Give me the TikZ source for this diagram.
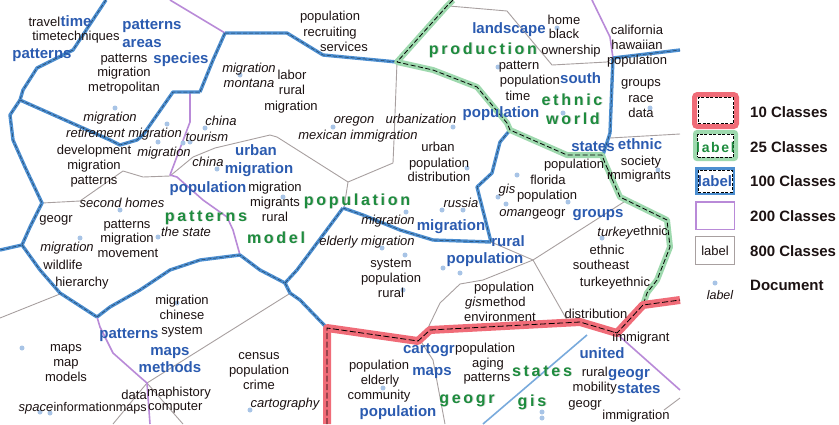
\documentclass[tikz,border=0pt]{standalone}
\usepackage{fontspec}
\setmainfont{Liberation Sans}
\newfontfamily\gfont[LetterSpace=17]{Liberation Sans}
\newfontfamily\gfontb[LetterSpace=12]{Liberation Sans}
\definecolor{txt}{HTML}{1C1212}
\definecolor{bl}{HTML}{2B5BB0}
\definecolor{gr}{HTML}{1E8C3E}
\definecolor{redl}{HTML}{F06C78}
\definecolor{grl}{HTML}{9ED9AE}
\definecolor{bll}{HTML}{4C8ED0}
\definecolor{pul}{HTML}{B98AD8}
\definecolor{gyl}{HTML}{A8A0A0}
\definecolor{dotc}{HTML}{A8C4E6}
\newcounter{tx}
\newcounter{dp}
\newcommand\tx[4]{\stepcounter{tx}\node[#1] (t\arabic{tx}) at (#2,#3) {#4};}
\newcommand\gtx[3]{\stepcounter{tx}\node[ggsh] (s\arabic{tx}) at (#1,#2) {#3};\node[gg] (t\arabic{tx}) at (#1,#2) {#3};}
\newcommand\dpt[2]{\stepcounter{dp}\node[docdot] (d\arabic{dp}) at (#1,#2) {};}
\tikzset{
 w/.style={font=\fontsize{13}{15}\selectfont, text=txt, inner sep=0pt, anchor=base, yshift=-4.5pt},
 wi/.style={w, font=\fontsize{13}{15}\selectfont\itshape},
 bb/.style={font=\fontsize{15}{17}\selectfont\bfseries, text=bl, inner sep=0pt, anchor=base, yshift=-5.5pt},
 gg/.style={font=\fontsize{16}{18}\selectfont\gfont\bfseries, text=gr, inner sep=0pt, anchor=base, yshift=-6pt},
 ggsh/.style={gg, text=black!30, xshift=0.9pt, yshift=-0.9pt, opacity=0.55},
 lgt/.style={font=\fontsize{15}{17}\selectfont\bfseries, text=txt, inner sep=0pt, anchor=west},
 docdot/.style={circle, fill=dotc, inner sep=0pt, minimum size=5pt},
 c800/.style={draw=gyl, line width=0.9pt, line join=round},
 c200/.style={draw=pul, line width=1.6pt, line join=round},
 c100/.style={draw=black!55!bll, line width=0.5pt, dash pattern=on 4pt off 2pt, line join=round,
   preaction={draw=bll, line width=3.4pt, solid, line join=round}},
 c25/.style={draw=black, line width=0.8pt, dash pattern=on 5pt off 2.5pt, line join=round,
   preaction={draw=grl, line width=6pt, solid, line join=round}},
 c10/.style={draw=black, line width=0.8pt, dash pattern=on 6pt off 2.5pt, line join=round,
   preaction={draw=redl, line width=8pt, solid, line join=round}},
}
\begin{document}
\begin{tikzpicture}[x=1pt,y=-1pt]
\useasboundingbox (0,0) rectangle (839,424);
\fill[white] (0,0) rectangle (839,424);
% 800 classes
\draw[c800] (0,318)--(60,294);
\draw[c800] (42,203)--(80,201)--(123,171)--(143,177)--(170,176);
\draw[c800] (170,176)--(193,157)--(215,148)--(270,135)--(277,137)--(348,182);
\draw[c800] (348,182)--(393,163)--(394,140)--(397,62);
\draw[c800] (348,182)--(344,208);
\draw[c800] (449,6)--(507,11)--(552,65)--(607,62)--(613,58);
\draw[c800] (610,138)--(680,134);
\draw[c800] (491,242)--(533,260)--(627,200);
\draw[c800] (533,260)--(483,280)--(460,284)--(440,303)--(426,332);
\draw[c800] (533,260)--(567,320);
\draw[c800] (289,294)--(147,383);
\draw[c800] (147,383)--(113,424);
\draw[c800] (147,383)--(183,424);
\draw[c800] (420,340)--(433,360)--(445,424);
\draw[c800] (664,410)--(680,398);
% 200 classes
\draw[c200] (170,0)--(225,33);
\draw[c200] (592,0)--(610,37)--(613,58);
\draw[c200] (190,92)--(190,122)--(170,175)--(177,177)--(203,200)--(227,217)--(233,230)--(240,255);
\draw[c200] (97,317)--(100,327)--(113,353)--(140,377)--(147,383)--(150,424);
\draw[c200] (617,334)--(680,390);
% 100 classes
\draw[c100] (106,0)--(73,50)--(37,68)--(23,90)--(20,100);
\draw[c100] (20,100)--(10,115)--(13,140)--(25,167)--(42,203)--(30,227)--(22,245);
\draw[c100] (22,245)--(0,250);
\draw[c100] (22,245)--(40,270)--(60,293)--(97,317);
\draw[c100] (97,317)--(110,307)--(140,290)--(170,270)--(200,260)--(240,255)--(260,270)--(285,283);
\draw[c100] (285,283)--(290,293)--(300,300)--(327,328);
\draw[c100] (285,283)--(297,270)--(343,208);
\draw[c100] (343,208)--(363,215)--(400,230)--(433,240)--(491,242);
\draw[c100] (491,242)--(477,187)--(492,173)--(500,142)--(510,130);
\draw[c100] (20,100)--(110,140)--(120,145)--(137,140)--(143,135)--(173,92)--(200,92);
\draw[c100] (200,92)--(213,60)--(225,33);
\draw[c100] (225,33)--(287,33)--(323,55)--(397,62);
\draw[c100] (613,58)--(680,50);
\draw[c100] (613,58)--(610,133)--(603,155);
\draw[draw=bll!75, line width=1.6pt] (587,335)--(483,424);
% 25 classes
\draw[c25] (453,0)--(447,6)--(397,62)--(433,70)--(477,87)--(507,123)--(510,130)--(567,155)--(602,155)--(605,163)--(620,197)--(667,220)--(670,247)--(657,280)--(647,293)--(643,305);
% 10 classes
\draw[c10] (327,424)--(327,328)--(418,341)--(430,330)--(580,322)--(617,333)--(643,305)--(680,300);
% documents
\dpt{115}{108}\dpt{167}{124}\dpt{205}{128}\dpt{158}{142}\dpt{183}{143}\dpt{190}{142}
\dpt{217}{169}\dpt{120}{210}\dpt{80}{238}\dpt{158}{237}\dpt{283}{197}\dpt{406}{212}
\dpt{382}{248}\dpt{405}{255}\dpt{240}{75}\dpt{333}{127}\dpt{557}{28}\dpt{498}{67}
\dpt{563}{113}\dpt{650}{108}\dpt{453}{127}\dpt{467}{168}\dpt{517}{175}\dpt{498}{197}
\dpt{506}{204}\dpt{442}{210}\dpt{463}{210}\dpt{568}{202}\dpt{602}{238}\dpt{658}{170}
\dpt{443}{268}\dpt{460}{273}\dpt{22}{348}\dpt{177}{303}\dpt{40}{412}\dpt{50}{413}
\dpt{403}{290}\dpt{383}{388}\dpt{250}{410}\dpt{542}{412}\dpt{542}{418}
% labels top-left
\tx{w,anchor=base east}{60.5}{22}{travel}
\tx{bb,anchor=base west}{60.5}{21}{time}
\tx{w}{76}{36}{timetechniques}
\tx{bb}{42}{53}{patterns}
\tx{bb}{152}{24}{patterns}
\tx{bb}{142}{42}{areas}
\tx{bb}{181}{58}{species}
\tx{w}{124}{58}{patterns}
\tx{w}{124}{72}{migration}
\tx{w}{124}{87}{metropolitan}
\tx{wi}{110}{117}{migration}
\tx{wi}{124}{133}{retirement migration}
\tx{wi}{221}{121}{china}
\tx{wi}{207}{137}{tourism}
\tx{w}{94}{150}{development}
\tx{wi}{164}{152}{migration}
\tx{w}{94}{165}{migration}
\tx{w}{94}{180}{patterns}
\tx{wi}{208}{162}{china}
\tx{bb}{256}{150}{urban}
\tx{bb}{259}{168}{migration}
\tx{bb}{208}{187}{population}
\tx{w}{275}{187}{migration}
\tx{w}{275}{202}{migrants}
\tx{w}{275}{217}{rural}
\gtx{206}{215}{patterns}
\gtx{276}{237}{model}
\tx{wi}{122}{203}{second homes}
\tx{w}{56}{218}{geogr}
\tx{w}{127}{224}{patterns}
\tx{w}{127}{238}{migration}
\tx{w}{128}{253}{movement}
\tx{wi}{186}{232}{the state}
\tx{wi}{67}{247}{migration}
\tx{w}{63}{265}{wildlife}
\tx{w}{82}{282}{hierarchy}
% top middle
\tx{w}{330}{16}{population}
\tx{w}{330}{32}{recruiting}
\tx{w}{344}{47}{services}
\tx{wi}{249}{68}{migration}
\tx{wi}{249}{83}{montana}
\tx{w}{292}{75}{labor}
\tx{w}{292}{90}{rural}
\tx{w}{291}{106}{migration}
\tx{wi}{354}{119}{oregon}
\tx{wi}{358}{135}{mexican immigration}
\tx{wi}{421}{119}{urbanization}
\tx{w}{438}{147}{urban}
\tx{w}{439}{163}{population}
\tx{w}{439}{177}{distribution}
\gtx{357}{199}{population}
\tx{wi}{388}{220}{migration}
\tx{wi}{367}{241}{elderly migration}
\tx{w}{391}{263}{system}
\tx{w}{391}{278}{population}
\tx{w}{391}{293}{rural}
% top right
\tx{bb}{509}{28}{landscape}
\tx{w}{564}{20}{home}
\tx{w}{564}{34}{black}
\tx{w}{571}{50}{ownership}
\gtx{483}{48}{production}
\tx{w}{519}{65}{pattern}
\tx{w,anchor=base east}{560}{80}{population}
\tx{bb,anchor=base west}{560}{78}{south}
\tx{w}{518}{96}{time}
\gtx{572}{99}{ethnic}
\gtx{573}{118}{world}
\tx{bb}{501}{112}{population}
\tx{w}{637}{30}{california}
\tx{w}{637}{45}{hawaiian}
\tx{w}{637}{60}{population}
\tx{w}{641}{82}{groups}
\tx{w}{641}{98}{race}
\tx{w}{641}{113}{data}
\tx{bb}{593}{146}{states}
\tx{bb}{640}{144}{ethnic}
\tx{w}{641}{161}{society}
\tx{w}{639}{175}{immigrants}
\tx{w}{574}{164}{population}
\tx{w}{548}{180}{florida}
\tx{wi}{507}{189}{gis}
\tx{w}{547}{195}{population}
\tx{wi,anchor=base east}{532}{212}{oman}
\tx{w,anchor=base west}{532}{212}{geogr}
\tx{bb}{598}{212}{groups}
\tx{wi}{461}{203}{russia}
\tx{bb}{451}{225}{migration}
\tx{bb}{508}{241}{rural}
\tx{bb}{485}{258}{population}
\tx{wi,anchor=base east}{633}{232}{turkey}
\tx{w,anchor=base west}{633}{231}{ethnic}
\tx{w}{607}{250}{ethnic}
\tx{w}{601}{265}{southeast}
\tx{w}{615}{282}{turkeyethnic}
% bottom
\tx{w}{504}{287}{population}
\tx{wi,anchor=base east}{482}{302}{gis}
\tx{w,anchor=base west}{482}{302}{method}
\tx{w}{500}{317}{environment}
\tx{w}{596}{314}{distribution}
\tx{w}{641}{337}{immigrant}
\tx{bb,anchor=base east}{455}{348}{cartogr}
\tx{w,anchor=base west}{455}{348}{population}
\tx{w}{488}{363}{aging}
\tx{w}{487}{377}{patterns}
\tx{bb}{432}{370}{maps}
\gtx{542}{370}{states}
\gtx{467}{397}{geogr}
\gtx{532}{400}{gis}
\tx{bb}{398}{411}{population}
\tx{bb}{602}{353}{united}
\tx{w,anchor=base east}{608}{372}{rural}
\tx{bb,anchor=base west}{608}{372}{geogr}
\tx{w,anchor=base east}{617}{387}{mobility}
\tx{bb,anchor=base west}{617}{388}{states}
\tx{w}{585}{403}{geogr}
\tx{w}{636}{415}{immigration}
\tx{w}{259}{355}{census}
\tx{w}{259}{370}{population}
\tx{w}{259}{385}{crime}
\tx{wi}{285}{403}{cartography}
\tx{w}{379}{365}{population}
\tx{w}{380}{380}{elderly}
\tx{w}{379}{395}{community}
% bottom left
\tx{w}{182}{300}{migration}
\tx{w}{182}{315}{chinese}
\tx{w}{182}{330}{system}
\tx{bb}{129}{333}{patterns}
\tx{bb}{170}{350}{maps}
\tx{bb}{170}{367}{methods}
\tx{w}{66}{347}{maps}
\tx{w}{66}{362}{map}
\tx{w}{66}{377}{models}
\tx{w,anchor=base east}{147}{395}{data}
\tx{w,anchor=base west}{147}{392}{maphistory}
\node[w,anchor=base east,font=\fontsize{12.6}{15}\selectfont] (tinfo) at (147,407) {informationmaps};
\node[wi,anchor=base east,yshift=4.5pt] (tspace) at (tinfo.base west) {space};
\tx{w,anchor=base west}{148}{406}{computer}
% legend
\node[draw=redl, line width=5pt, rounded corners=3pt, minimum width=42pt, minimum height=32pt, inner sep=0pt] (lg10) at (715.5,110.5) {};
\node[draw=black, line width=0.8pt, dash pattern=on 3pt off 1.5pt, minimum width=35pt, minimum height=26pt, inner sep=0pt] (lg10d) at (715.5,110.5) {};
\node[draw=grl, line width=4pt, rounded corners=2pt, minimum width=41pt, minimum height=27pt, inner sep=0pt] (lg25) at (715.5,145.5) {};
\node[draw=black, line width=0.8pt, dash pattern=on 3pt off 1.5pt, minimum width=36pt, minimum height=23pt, inner sep=0pt] (lg25d) at (715.5,145.5) {};
\node[gg, font=\fontsize{14}{16}\selectfont\gfontb\bfseries] (lg25t) at (715.5,146) {label};
\node[draw=bll, line width=2.5pt, minimum width=37.5pt, minimum height=25.5pt, inner sep=0pt] (lg100) at (715,181) {};
\node[draw=black, line width=0.7pt, dash pattern=on 3pt off 1.5pt, minimum width=34pt, minimum height=22pt, inner sep=0pt] (lg100d) at (715,181) {};
\node[bb] (lg100t) at (715,181) {label};
\node[draw=pul, line width=1.5pt, minimum width=38.5pt, minimum height=27.5pt, inner sep=0pt] (lg200) at (715,215.5) {};
\node[draw=gyl, line width=0.8pt, minimum width=39pt, minimum height=28pt, inner sep=0pt] (lg800) at (715,250.5) {};
\node[w] (lg800t) at (715,251) {label};
\node[docdot] (lgdot) at (715,283) {};
\node[wi, font=\fontsize{12.5}{14}\selectfont\itshape] (lgdt) at (720,295) {label};
\node[lgt] (lt1) at (750,112) {10 Classes};
\node[lgt] (lt2) at (750,147) {25 Classes};
\node[lgt] (lt3) at (750,181) {100 Classes};
\node[lgt] (lt4) at (750,216) {200 Classes};
\node[lgt] (lt5) at (750,251) {800 Classes};
\node[lgt] (lt6) at (750,285) {Document};
\end{tikzpicture}
\end{document}
